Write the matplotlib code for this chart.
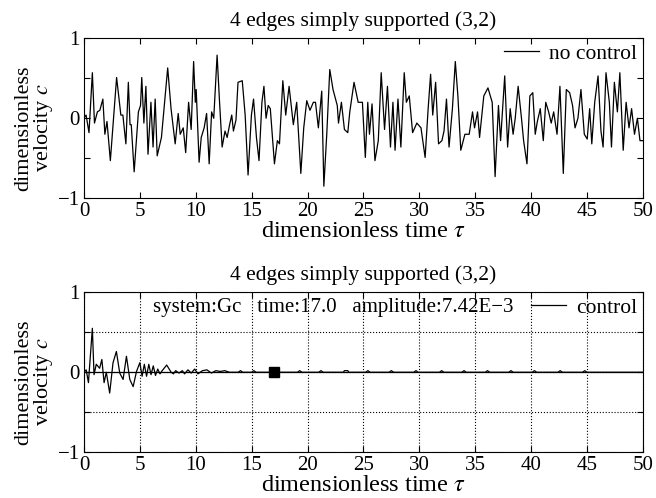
import matplotlib
matplotlib.use("Agg")
import matplotlib.pyplot as plt

plt.rcParams['font.family'] = ['Liberation Serif', 'DejaVu Serif']
plt.rcParams['mathtext.fontset'] = 'stix'

# no control (top)
t_free = [0.00, 0.19, 0.45, 0.75, 0.94, 1.20, 1.42, 1.69, 1.87, 2.06, 2.36, 2.92, 3.30, 3.48, 3.75,
          3.97, 4.12, 4.23, 4.49, 4.87, 5.06, 5.17, 5.36, 5.54, 5.73, 5.99, 6.18, 6.37, 6.55, 6.93,
          7.49, 7.79, 8.16, 8.43, 8.61, 8.88, 9.10, 9.36, 9.59, 9.81, 9.96, 10.04, 10.30, 10.49, 10.75,
          10.97, 11.20, 11.42, 11.61, 11.91, 12.13, 12.36, 12.62, 12.81, 13.03, 13.22, 13.37, 13.60, 13.78, 14.16,
          14.42, 14.68, 14.98, 15.17, 15.43, 15.66, 15.92, 16.10, 16.29, 16.48, 16.67, 17.04, 17.30, 17.49, 17.79,
          18.05, 18.35, 18.73, 19.03, 19.40, 19.66, 19.93, 20.22, 20.52, 20.71, 20.97, 21.27, 21.46, 21.72, 21.99,
          22.28, 22.66, 22.77, 23.03, 23.30, 23.60, 23.78, 24.16, 24.53, 24.91, 25.17, 25.39, 25.54, 25.77, 26.03,
          26.33, 26.59, 26.89, 27.15, 27.42, 27.64, 27.83, 28.09, 28.35, 28.65, 28.84, 29.10, 29.40, 29.78, 30.15,
          30.52, 30.79, 31.01, 31.20, 31.46, 31.72, 32.02, 32.21, 32.43, 32.66, 32.96, 33.22, 33.45, 33.71, 34.08,
          34.46, 34.76, 34.94, 35.21, 35.39, 35.77, 36.14, 36.52, 36.78, 37.08, 37.27, 37.64, 37.90, 38.13, 38.39,
          38.58, 38.84, 39.14, 39.33, 39.63, 39.89, 40.15, 40.37, 40.56, 40.82, 41.09, 41.31, 41.57, 41.80, 42.02,
          42.32, 42.58, 42.88, 43.15, 43.45, 43.71, 43.93, 44.19, 44.46, 44.76, 45.02, 45.24, 45.43, 45.69, 45.99,
          46.25, 46.44, 46.70, 47.00, 47.19, 47.45, 47.72, 47.94, 48.24, 48.50, 48.76, 48.99, 49.25, 49.51, 49.74,
          50.00]
v_free = [0.00, 0.04, -0.18, 0.57, -0.06, 0.08, 0.10, 0.24, -0.20, -0.04, -0.53, 0.51, 0.04, 0.04, -0.32,
          0.45, -0.08, -0.08, -0.67, 0.08, 0.16, 0.51, -0.06, 0.40, -0.45, 0.20, -0.36, 0.24, -0.47, -0.24,
          0.63, 0.12, -0.32, 0.06, -0.20, -0.12, -0.43, 0.20, -0.14, 0.71, 0.20, 0.36, -0.55, -0.24, -0.12,
          0.06, -0.57, 0.08, 0.00, 0.79, 0.20, -0.36, -0.16, -0.24, -0.08, 0.04, -0.16, -0.02, 0.45, 0.47,
          0.04, -0.71, 0.04, 0.24, -0.24, -0.53, 0.20, 0.40, 0.00, 0.16, 0.12, -0.57, -0.28, -0.32, 0.47,
          0.04, 0.40, -0.08, 0.20, -0.69, -0.12, 0.22, 0.10, 0.20, 0.20, -0.12, 0.34, -0.85, -0.20, 0.61,
          0.36, 0.16, -0.06, 0.20, -0.14, -0.18, 0.08, 0.45, 0.20, 0.20, -0.49, 0.20, -0.20, 0.18, -0.53,
          -0.28, 0.57, -0.14, 0.40, -0.36, 0.20, -0.40, 0.24, -0.36, 0.57, 0.20, 0.28, -0.18, -0.06, -0.12,
          -0.49, 0.12, 0.55, 0.04, 0.45, -0.32, -0.28, -0.16, 0.24, -0.36, 0.12, 0.71, 0.28, -0.40, -0.20,
          -0.20, 0.08, -0.12, 0.08, -0.24, 0.28, 0.38, 0.20, -0.73, 0.16, -0.28, 0.53, -0.36, 0.12, -0.20,
          0.00, 0.40, 0.00, -0.28, -0.57, 0.28, 0.32, -0.20, -0.04, 0.12, -0.28, 0.20, 0.08, -0.06, 0.08,
          -0.20, 0.40, -0.69, 0.36, 0.32, 0.16, -0.12, 0.00, 0.36, -0.20, -0.26, 0.12, -0.32, 0.20, 0.53,
          -0.16, -0.36, 0.57, 0.20, -0.36, 0.45, 0.08, 0.57, -0.40, 0.20, -0.12, 0.12, -0.20, 0.00, -0.28,
          -0.28]

# control (bottom)
t_ctrl = [0.0, 0.2, 0.4, 0.75, 0.9, 1.1, 1.4, 1.6, 1.8, 2.0, 2.3, 2.6, 2.9, 3.2, 3.5, 3.8, 4.1, 4.4, 4.7,
          5.0, 5.2, 5.4, 5.6, 5.8, 6.0, 6.2, 6.4, 6.6, 6.8, 7.0, 7.4, 7.8, 8.0, 8.2, 8.5, 8.8, 9.0, 9.3, 9.6,
          9.9, 10.2, 10.6, 11.0, 11.4, 11.8, 12.2, 12.6, 13.0,
          13.8, 14.0, 14.2, 15.0, 15.2, 15.4, 19.1, 19.3, 19.5, 21.0, 21.2, 21.4,
          23.2, 23.3, 23.6, 23.7, 25.2, 25.4, 25.6, 27.3, 27.5, 27.7, 29.5, 29.7, 29.9,
          31.8, 32.0, 32.2, 33.8, 34.0, 34.2, 35.9, 36.1, 36.3, 38.0, 38.2, 38.4,
          40.1, 40.3, 40.5, 42.4, 42.6, 42.8, 44.6, 44.8, 45.0, 50.0]
v_ctrl = [0.0, 0.03, -0.13, 0.55, -0.03, 0.10, 0.05, 0.16, -0.13, 0.0, -0.26, 0.12, 0.26, -0.01, -0.09,
          0.20, -0.09, -0.18, 0.01, 0.12, -0.05, 0.10, -0.05, 0.10, -0.03, 0.08, -0.04, 0.04, -0.02, 0.02,
          0.09, 0.0, -0.02, 0.02, -0.01, 0.02, -0.02, 0.03, -0.01, 0.04, -0.02, 0.02, 0.03, -0.01, 0.02,
          0.01, 0.02, 0.0,
          0.0, 0.02, 0.0, 0.0, 0.02, 0.0, 0.0, 0.02, 0.0, 0.0, 0.02, 0.0,
          0.0, 0.02, 0.02, 0.0, 0.0, 0.02, 0.0, 0.0, 0.02, 0.0, 0.0, 0.02, 0.0,
          0.0, 0.02, 0.0, 0.0, 0.02, 0.0, 0.0, 0.02, 0.0, 0.0, 0.02, 0.0,
          0.0, 0.02, 0.0, 0.0, 0.02, 0.0, 0.0, 0.02, 0.0, 0.0]

marker_t = 17.0
marker_v = 0.0

title = "4 edges simply supported (3,2)"
xticks = [0, 5, 10, 15, 20, 25, 30, 35, 40, 45, 50]
yticks = [-1, -0.5, 0, 0.5, 1]
ytick_labels = ["\u22121", "", "0", "", "1"]

fig = plt.figure(figsize=(6.56, 4.98), dpi=100)
ax1 = fig.add_axes([0.128, 0.602, 0.852, 0.321])
ax2 = fig.add_axes([0.128, 0.092, 0.852, 0.321])

for ax in (ax1, ax2):
    ax.set_xlim(0, 50)
    ax.set_ylim(-1, 1)
    ax.set_xticks(xticks)
    ax.set_xticklabels([str(x) for x in xticks])
    ax.set_yticks(yticks)
    ax.set_yticklabels(ytick_labels)
    ax.tick_params(direction='in', top=True, right=True, labelsize=15, length=4, pad=3)
    ax.set_title(title, fontsize=15.5, pad=9)
    ax.set_xlabel(r"dimensionless time $\tau$", fontsize=17.5, labelpad=0)
    ax.set_ylabel("dimensionless\n" + r"velocity $c$", fontsize=16, linespacing=0.9)
    ax.yaxis.set_label_coords(-0.052, 0.44)
    for sp in ax.spines.values():
        sp.set_linewidth(0.8)

ax1.plot(t_free, v_free, color='black', linewidth=0.9, label='no control')
ax1.legend(loc='upper right', frameon=False, fontsize=15.5, handlelength=1.6,
           borderaxespad=0.05, handletextpad=0.5, borderpad=0.2)

ax2.grid(True, linestyle=':', color='black', linewidth=0.8)
ax2.axhline(0, color='black', linewidth=0.9)
ax2.plot(t_ctrl, v_ctrl, color='black', linewidth=0.9, label='control')
ax2.plot([marker_t], [marker_v], marker='s', color='black', markersize=7.5, linestyle='none')
ax2.legend(loc='upper right', frameon=False, fontsize=15.5, handlelength=1.6,
           borderaxespad=0.05, handletextpad=0.5, borderpad=0.2)
ax2.text(0.124, 0.965, "system:Gc   time:17.0   amplitude:7.42E\u22123", transform=ax2.transAxes,
         fontsize=15, va='top', ha='left')

fig.savefig("out.png", dpi=100)
